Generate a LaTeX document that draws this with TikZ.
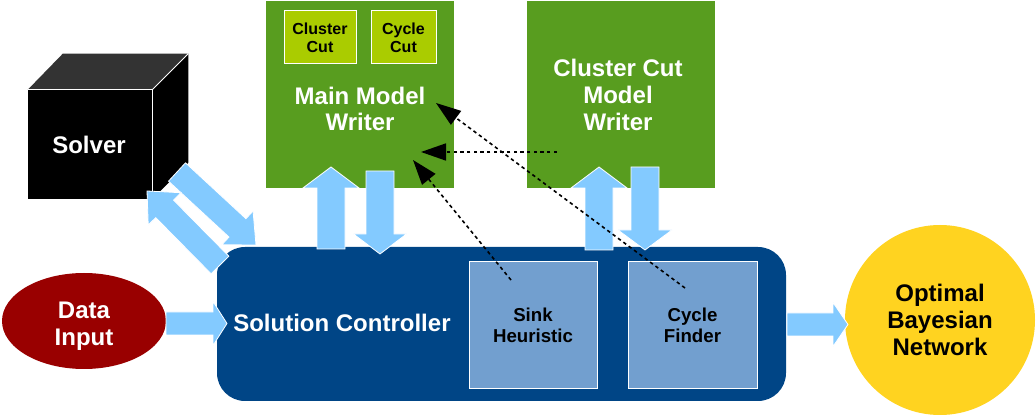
\documentclass[tikz,border=0pt]{standalone}
\usepackage{fontspec}
\setmainfont{Liberation Sans}
\usetikzlibrary{calc,arrows.meta,shapes.geometric}
\definecolor{mgreen}{HTML}{589D1F}
\definecolor{cutgreen}{HTML}{AACC00}
\definecolor{navy}{HTML}{004586}
\definecolor{subblue}{HTML}{729FCF}
\definecolor{arrblue}{HTML}{83CAFF}
\definecolor{dred}{HTML}{990000}
\definecolor{gold}{HTML}{FFD320}
\definecolor{solvertop}{HTML}{333333}
\tikzset{
  wtext/.style={text=white, font=\bfseries\fontsize{18}{19.5}\selectfont, align=center, inner sep=0pt},
  btext/.style={text=black, font=\bfseries\fontsize{18}{20.25}\selectfont, align=center, inner sep=0pt},
  greenbox/.style={fill=mgreen, inner sep=0pt},
  smallbox/.style={fill=cutgreen, draw=white, line width=0.75pt, inner sep=0pt, text=black, align=center, font=\bfseries\fontsize{12}{13.5}\selectfont},
  subbox/.style={fill=subblue, draw=white, line width=0.75pt, inner sep=0pt, text=black, align=center, font=\bfseries\fontsize{14}{15.75}\selectfont},
  blockarrow/.style={fill=arrblue, draw=white, line width=0.6pt, line join=miter},
  dasharrow/.style={black, line width=1.2pt, dash pattern=on 2.6pt off 2.4pt, -{Triangle[length=18.75pt, width=12.75pt]}}
}
\newcommand\blockarr[5]{%
  \filldraw[blockarrow] let \p1=(#1), \p2=(#2),
    \n1={atan2(\y2-\y1,\x2-\x1)},
    \n2={veclen(\x2-\x1,\y2-\y1)-#5}
  in ($(\p1)+(\n1+90:#3)$) -- ($(\p1)+(\n1:\n2)+(\n1+90:#3)$)
  -- ($(\p1)+(\n1:\n2)+(\n1+90:#4)$) -- (\p2)
  -- ($(\p1)+(\n1:\n2)+(\n1-90:#4)$) -- ($(\p1)+(\n1:\n2)+(\n1-90:#3)$)
  -- ($(\p1)+(\n1-90:#3)$) -- cycle;}
\begin{document}
\begin{tikzpicture}[x=0.75pt,y=-0.75pt]
\useasboundingbox (0,0) rectangle (1036,416);
% writers
\node[greenbox, minimum width=141pt, minimum height=140.25pt] (mmw) at (360,94.5) {};
\node[smallbox, minimum width=54pt, minimum height=39.75pt] (clcut) at (320,37.5) {Cluster\\Cut};
\node[smallbox, minimum width=48.75pt, minimum height=39.75pt] (cycut) at (403.5,37.5) {Cycle\\Cut};
\node[wtext] (mmwlabel) at (360,109) {Main Model\\Writer};
\node[greenbox, minimum width=141pt, minimum height=140.25pt] (ccmw) at (621,94.5) {};
\node[wtext, font=\bfseries\fontsize{18}{20.25}\selectfont] (ccmwlabel) at (618,95) {Cluster Cut\\Model\\Writer};
% solver cube
\node[fill=black, inner sep=0pt, minimum width=93pt, minimum height=81.75pt] (solver) at (90,144.5) {};
\fill[solvertop] (solver.north west) -- ++(35,-36) -- ++(125,0) -- (solver.north east) -- cycle;
\fill[black] (solver.north east) -- ++(36,-36) -- ++(0,109) -- (solver.south east) -- cycle;
\draw[white, line width=0.75pt] (solver.north west) -- (solver.north east) -- (solver.south east);
\draw[white, line width=0.75pt] (solver.north east) -- ++(36,-36);
\node[wtext] (solverlabel) at (89,145) {Solver};
% controller
\node[fill=navy, rounded corners=21pt, inner sep=0pt, minimum width=426.75pt, minimum height=115.5pt] (ctrl) at (501.5,324) {};
\node[wtext, anchor=west] (ctrllabel) at (233,323) {Solution Controller};
\node[subbox, minimum width=96pt, minimum height=95.25pt] (sink) at (533,325.5) {Sink\\Heuristic};
\node[subbox, minimum width=96.75pt, minimum height=95.25pt] (cfind) at (692.5,325.5) {Cycle\\Finder};
% data input
\node[ellipse, fill=dred, inner sep=0pt, minimum width=123pt, minimum height=72pt] (data) at (84,321) {};
\node[wtext, font=\bfseries\fontsize{18}{20.25}\selectfont] (datalabel) at (84,326) {Data\\Input};
% bayesian network
\node[circle, fill=gold, inner sep=0pt, minimum size=142.5pt] (bn) at (940,320) {};
\node[btext] (bnlabel) at (940,320) {Optimal\\Bayesian\\Network};
% block arrow end points
\coordinate (a1s) at (166,323.5); \coordinate (a1e) at (227,323.5);
\coordinate (a2s) at (787,324.5); \coordinate (a2e) at (848,324.5);
\coordinate (a3s) at (331,249);   \coordinate (a3e) at (331,167);
\coordinate (a4s) at (380,171);   \coordinate (a4e) at (380,254);
\coordinate (a5s) at (599,250);   \coordinate (a5e) at (599,167);
\coordinate (a6s) at (645,167);   \coordinate (a6e) at (645,250);
\coordinate (a7s) at (177,172);   \coordinate (a7e) at (256,245);
\coordinate (a8s) at (220,265);   \coordinate (a8e) at (147,191);
\blockarr{a1s}{a1e}{8.625pt}{16.5pt}{10.5pt}
\blockarr{a2s}{a2e}{8.625pt}{16.5pt}{11.25pt}
\blockarr{a3s}{a3e}{10.5pt}{21pt}{15.75pt}
\blockarr{a4s}{a4e}{10.5pt}{19.875pt}{15pt}
\blockarr{a5s}{a5e}{10.5pt}{21pt}{15.75pt}
\blockarr{a6s}{a6e}{10.5pt}{20.25pt}{15pt}
\blockarr{a7s}{a7e}{9.375pt}{17.25pt}{18.75pt}
\blockarr{a8s}{a8e}{9.375pt}{17.25pt}{18.75pt}
% dashed connectors
\coordinate (d1s) at (511,280); \coordinate (d1e) at (413,160);
\coordinate (d2s) at (685,288); \coordinate (d2e) at (436,103);
\coordinate (d3s) at (557,152); \coordinate (d3e) at (421,152);
\draw[dasharrow] (d1s) -- (d1e);
\draw[dasharrow] (d2s) -- (d2e);
\draw[dasharrow] (d3s) -- (d3e);
\end{tikzpicture}
\end{document}
